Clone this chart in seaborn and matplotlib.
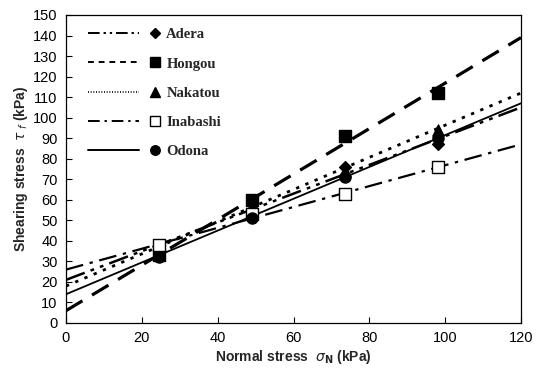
import matplotlib
matplotlib.use("Agg")
import matplotlib.pyplot as plt
import seaborn as sns
import pandas as pd
from matplotlib.lines import Line2D
from matplotlib.legend_handler import HandlerBase

# ---- data ----
sites = ["Adera", "Hongou", "Nakatou", "Inabashi", "Odona"]
normal_stress = [24.5, 49, 73.5, 98]
adera = [37, 54, 76, 87]
hongou = [33, 60, 91, 112]
nakatou = [36, 57, 74, 94]
inabashi = [38, 53, 63, 76]
odona = [32, 51, 71, 90]
# fitted lines: value at sigma=0 and sigma=120
line_x = [0, 120]
line_adera = [21, 105]
line_hongou = [6, 139]
line_nakatou = [18, 112]
line_inabashi = [26, 87]
line_odona = [14, 107]

points = {"Adera": adera, "Hongou": hongou, "Nakatou": nakatou,
          "Inabashi": inabashi, "Odona": odona}
lines = {"Adera": line_adera, "Hongou": line_hongou, "Nakatou": line_nakatou,
         "Inabashi": line_inabashi, "Odona": line_odona}

styles = {
    "Adera": dict(ls=(0, (8, 2.5, 1.5, 2.5, 1.5, 2.5)), lw=1.8, marker="D", ms=6, mfc="black"),
    "Hongou": dict(ls=(0, (6, 3.5)), lw=2.3, marker="s", ms=8, mfc="black"),
    "Nakatou": dict(ls=(0, (1.2, 2.4)), lw=2.0, marker="^", ms=8, mfc="black"),
    "Inabashi": dict(ls=(0, (8, 3, 1.5, 3)), lw=1.6, marker="s", ms=8, mfc="white"),
    "Odona": dict(ls="-", lw=1.3, marker="o", ms=8, mfc="black"),
}

sns.set_style("white")
plt.rcParams["font.family"] = ["Liberation Sans", "DejaVu Sans"]

fig = plt.figure(figsize=(5.39, 3.80), dpi=100)
ax = fig.add_axes([66 / 539, 57 / 380, 455 / 539, 308 / 380])

for s in sites:
    st = styles[s]
    ldf = pd.DataFrame({"x": line_x, "y": lines[s]})
    sns.lineplot(data=ldf, x="x", y="y", ax=ax, color="black",
                 linestyle=st["ls"], linewidth=st["lw"], zorder=2)
for s in sites:
    st = styles[s]
    pdf = pd.DataFrame({"x": normal_stress, "y": points[s]})
    sns.scatterplot(data=pdf, x="x", y="y", ax=ax, marker=st["marker"],
                    s=st["ms"] ** 2, color=st["mfc"], edgecolor="black",
                    linewidth=1.0, zorder=3)

ax.set_xlim(0, 120)
ax.set_ylim(0, 150)
ax.set_xticks(range(0, 121, 20))
ax.set_yticks(range(0, 151, 10))
ax.tick_params(direction="in", length=4, width=0.8, labelsize=10.5, colors="black",
               left=True, bottom=True, pad=6)
for sp in ax.spines.values():
    sp.set_color("black")
    sp.set_linewidth(0.9)

ax.set_xlabel(r"Normal stress  $\sigma_{\mathbf{N}}$ (kPa)", fontsize=10,
              fontweight="bold", labelpad=2)
ax.set_ylabel(r"Shearing stress  $\tau_{\ f}$ (kPa)", fontsize=10,
              fontweight="bold", labelpad=2)


class LineThenMarker(HandlerBase):
    def create_artists(self, legend, orig, xd, yd, w, h, fs, trans):
        y = h / 2 - yd
        l = Line2D([-xd, -xd + 0.70 * w], [y, y], color="black",
                   linestyle=orig.get_linestyle(), linewidth=orig.get_linewidth())
        if orig._unscaled_dash_pattern[1]:
            l.set_dashes(orig._unscaled_dash_pattern[1])
        m = Line2D([-xd + 0.92 * w], [y], linestyle="none", marker=orig.get_marker(),
                   markersize=orig.get_markersize() * 0.9,
                   markerfacecolor=orig.get_markerfacecolor(), markeredgecolor="black",
                   markeredgewidth=1.0)
        l.set_transform(trans)
        m.set_transform(trans)
        return [l, m]


leg_ls = {
    "Adera": (0, (6, 2, 1.2, 2, 1.2, 2)),
    "Hongou": (0, (3, 2.5)),
    "Nakatou": (0, (0.6, 1.0)),
    "Inabashi": (0, (6, 2.5, 1.2, 2.5)),
    "Odona": "-",
}
handles = []
for s in sites:
    st = styles[s]
    handles.append(Line2D([], [], color="black", linestyle=leg_ls[s],
                          linewidth=1.4 if s != "Nakatou" else 1.2,
                          marker=st["marker"], markersize=st["ms"] * 0.95,
                          markerfacecolor=st["mfc"]))

leg = ax.legend(handles, sites, handler_map={Line2D: LineThenMarker()},
                loc="upper left", bbox_to_anchor=(0.02, 1.0), frameon=False,
                handlelength=5.0, handletextpad=0.35, labelspacing=1.1,
                prop={"family": ["Liberation Serif", "DejaVu Serif"], "weight": "bold", "size": 10.5})

fig.savefig("out.png", dpi=100)
